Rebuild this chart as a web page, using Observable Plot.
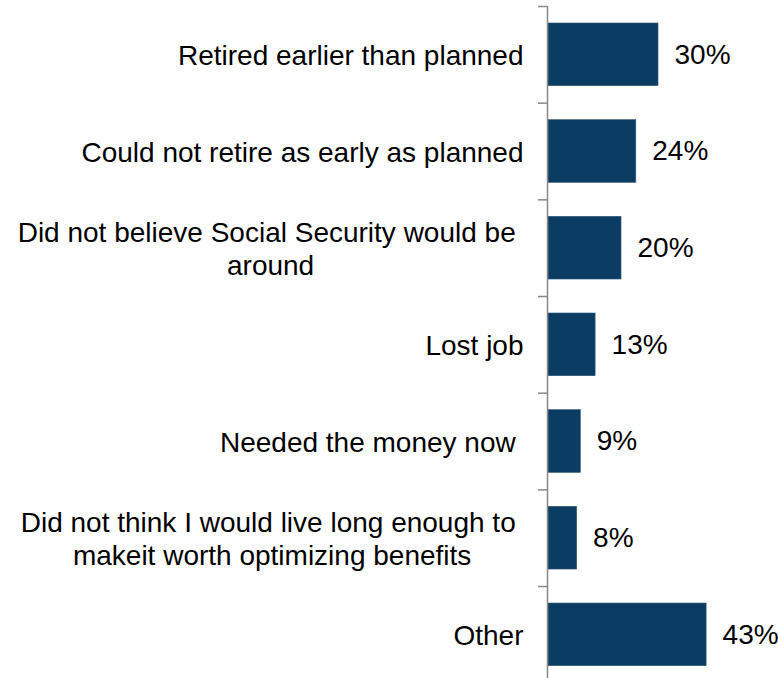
<!DOCTYPE html>
<html><head><meta charset="utf-8">
<style>body{margin:0;background:#fff;overflow:hidden}</style>
<script src="https://cdn.jsdelivr.net/npm/d3@7"></script>
<script src="https://cdn.jsdelivr.net/npm/@observablehq/plot@0.6"></script>
</head><body><div id="chart"></div>
<script>
const categories = [
  "Retired earlier than planned",
  "Could not retire as early as planned",
  "Did not believe Social Security would be \naround",
  "Lost job",
  "Needed the money now ",
  "Did not think I would live long enough to \nmakeit worth optimizing benefits",
  "Other"
];
const values = [30, 24, 20, 13, 9, 8, 43];

const rows = categories.map((c, i) => ({label: c, value: values[i], i}));
const FONT = "'Liberation Sans', Arial, sans-serif";
const ctx = document.createElement("canvas").getContext("2d");
ctx.font = "28px 'Liberation Sans'";
const gap = 24;

const labelMarks = rows.map(r => {
  const w = d3.max(r.label.split("\n"), l => ctx.measureText(l).width);
  return Plot.text([r], {
    y: d => d.i + 0.5, frameAnchor: "left", text: "label",
    textAnchor: "middle", lineAnchor: "middle", lineHeight: 1.16,
    dx: -(gap + w / 2), fontSize: 28, fill: "#000"
  });
});

const chart = Plot.plot({
  width: 778, height: 678,
  marginLeft: 547, marginRight: 9, marginTop: 6, marginBottom: 0,
  x: {domain: [0, 60], axis: null},
  y: {domain: [0, 7], range: [6, 682.7], axis: null},
  style: {fontFamily: FONT, fontSize: "28px", background: "#fff", color: "#000"},
  marks: [
    Plot.rect(rows, {x1: () => 0, x2: "value", y1: "i", y2: d => d.i + 1,
      insetTop: 17, insetBottom: 17, insetLeft: 1, fill: "#0b3c63", stroke: "#2a5478", strokeWidth: 0.6}),
    Plot.ruleX([0], {y1: 0, y2: 7, stroke: "#888", strokeWidth: 1.5}),
    Plot.axisY({ticks: d3.range(8), anchor: "left", tickSize: 9, tickFormat: () => "", label: null, stroke: "#888", strokeWidth: 1.5}),
    Plot.text(rows, {x: "value", y: d => d.i + 0.5, text: d => d.value + "%",
      textAnchor: "start", dx: 16, fontSize: 28, fill: "#000"}),
    ...labelMarks
  ]
});
document.getElementById("chart").appendChild(chart);
</script>
</body></html>
